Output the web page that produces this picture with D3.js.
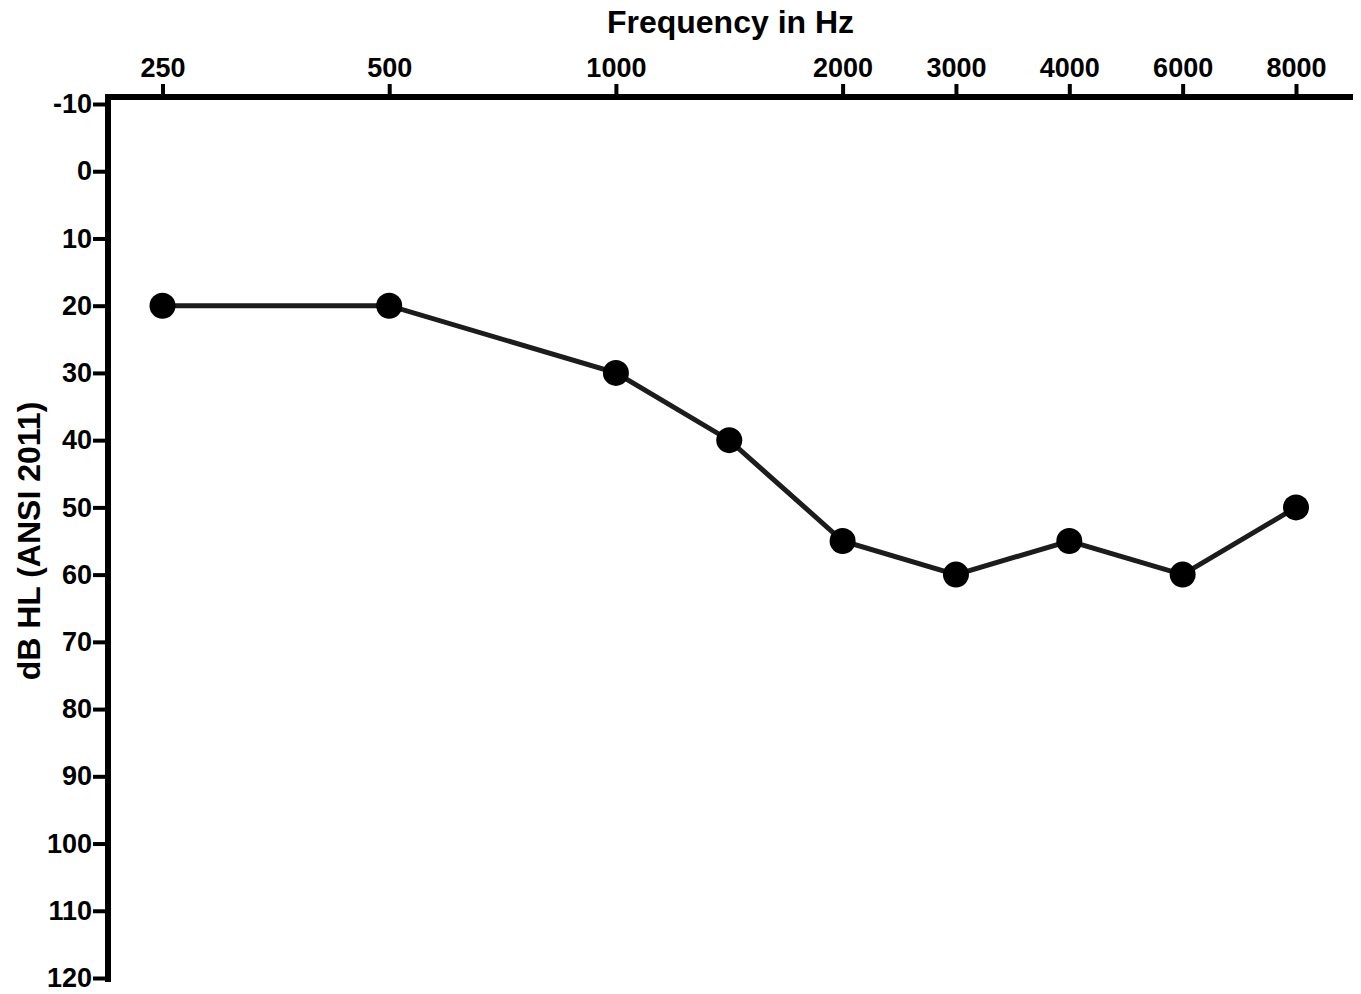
<!DOCTYPE html>
<meta charset="utf-8">
<style>
	body { margin: 0; background: #fff; }
	text { font-family: "Liberation Sans", Arial, sans-serif; font-weight: bold; fill: #000; }
</style>
<body>
	<div id="chart"></div>
</body>
<script src="https://cdn.jsdelivr.net/npm/d3@7"></script>
<script>
	const width = 1361,
	    height = 994;

	// audiogram values
	const frequencies = [250, 500, 1000, 1500, 2000, 3000, 4000, 6000, 8000];
	const thresholds = [20, 20, 30, 40, 55, 60, 55, 60, 50];
	const freqTicks = [250, 500, 1000, 2000, 3000, 4000, 6000, 8000];
	const dbTicks = [-10, 0, 10, 20, 30, 40, 50, 60, 70, 80, 90, 100, 110, 120];
	const octaves = [250, 500, 1000, 2000, 4000, 8000];

	const svg = d3.select("#chart").append("svg")
	    .attr("width", width)
	    .attr("height", height);

	// piecewise linear between octaves, so 1500/3000/6000 fall half way
	const x = d3.scaleLinear()
	    .domain(octaves)
	    .range(octaves.map((d, i) => 162.5 + i * 226.7));

	const y = d3.scaleLinear()
	    .domain([-10, 120])
	    .range([104, 978]);

	const axisX = 108, axisY = 97, axisRight = 1353;

	// x axis on top
	const gx = svg.append("g")
	    .attr("transform", "translate(0," + axisY + ")")
	    .call(d3.axisTop(x).tickValues(freqTicks).tickFormat(d => String(d))
	        .tickSize(13).tickSizeOuter(0).tickPadding(7));
	gx.select(".domain").remove();
	gx.selectAll(".tick line").attr("stroke", "#000").attr("stroke-width", 4);
	gx.selectAll(".tick text").style("font-size", "27px");

	// y axis on left
	const gy = svg.append("g")
	    .attr("transform", "translate(" + axisX + ",0)")
	    .call(d3.axisLeft(y).tickValues(dbTicks).tickFormat(d => String(d))
	        .tickSize(15).tickSizeOuter(0).tickPadding(1));
	gy.select(".domain").remove();
	gy.selectAll(".tick line").attr("stroke", "#000").attr("stroke-width", 4);
	gy.selectAll(".tick text").style("font-size", "27px");

	// axis lines
	svg.append("line")
	    .attr("x1", axisX - 3).attr("x2", axisRight)
	    .attr("y1", axisY).attr("y2", axisY)
	    .attr("stroke", "#000").attr("stroke-width", 6);
	svg.append("line")
	    .attr("x1", axisX).attr("x2", axisX)
	    .attr("y1", axisY - 3).attr("y2", y(120) + 4)
	    .attr("stroke", "#000").attr("stroke-width", 6);

	// titles
	svg.append("text")
	    .attr("x", (axisX + axisRight) / 2)
	    .attr("y", 33)
	    .attr("text-anchor", "middle")
	    .style("font-size", "32px")
	    .text("Frequency in Hz");

	svg.append("text")
	    .attr("transform", "translate(40," + (y(-10) + y(120)) / 2 + ") rotate(-90)")
	    .attr("text-anchor", "middle")
	    .style("font-size", "32px")
	    .text("dB HL (ANSI 2011)");

	// data
	const points = frequencies.map((f, i) => ({ f: f, db: thresholds[i] }));

	const line = d3.line()
	    .x(d => x(d.f))
	    .y(d => y(d.db));

	svg.append("path")
	    .datum(points)
	    .attr("d", line)
	    .attr("fill", "none")
	    .attr("stroke", "#1c1c1c")
	    .attr("stroke-width", 5);

	svg.selectAll(".dot")
	    .data(points)
	    .enter().append("circle")
	    .attr("class", "dot")
	    .attr("cx", d => x(d.f))
	    .attr("cy", d => y(d.db))
	    .attr("r", 13)
	    .attr("fill", "#000");
</script>
